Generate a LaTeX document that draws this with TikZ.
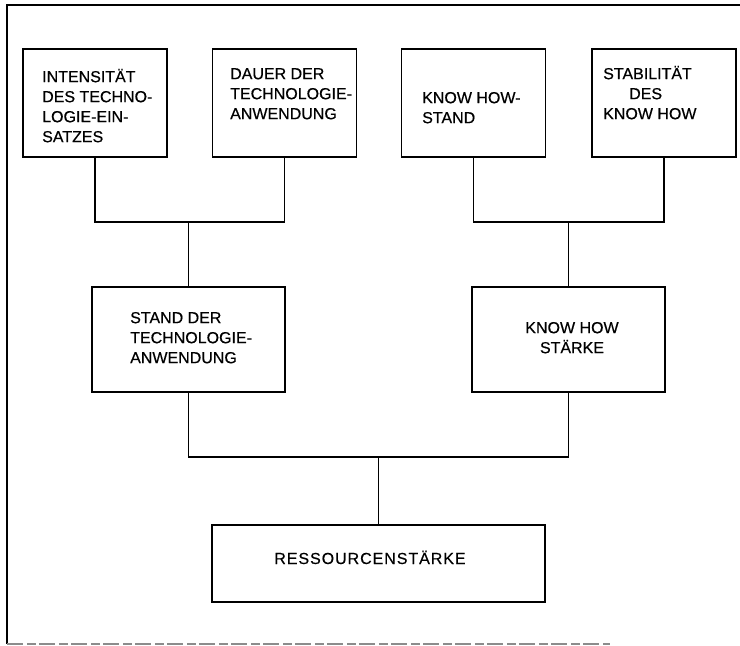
\documentclass[tikz,border=0pt]{standalone}
\usepackage{fontspec}
\setmainfont{Liberation Sans}
\newfontfamily\lettering[FakeBold=0.5]{Liberation Sans}
\newfontfamily\spaced[LetterSpace=6,FakeBold=0.4]{Liberation Sans}
\begin{document}
\begin{tikzpicture}[x=1pt,y=-1pt,
  box/.style={draw, line width=1.8pt, rectangle, inner sep=0pt, minimum height=108pt, minimum width=144pt},
  midbox/.style={box, minimum width=193pt, minimum height=105pt},
  bigbox/.style={box, minimum width=333pt, minimum height=77pt},
  lbl/.style={inner sep=0pt, font=\lettering\fontsize{16}{20}\selectfont, text=black},
  conn/.style={draw, line width=1.7pt},
  frame/.style={draw, line width=1.8pt}]
\useasboundingbox (0,0) rectangle (740,646);
% frame
\coordinate (fTL) at (7,5);
\coordinate (fTR) at (740,5);
\coordinate (fBL) at (7,644);
\coordinate (fBR) at (610,644);
\draw[frame] (fTR) -- (fTL) -- (fBL);
\draw[line width=1.4pt, black!45, dash pattern=on 16pt off 4pt on 9pt off 3pt] (fBL) -- (fBR);
% boxes
\node[box] (b1) at (95,103) {};
\node[box] (b2) at (284.5,103) {};
\node[box] (b3) at (473.5,103) {};
\node[box] (b4) at (664,103) {};
\node[midbox] (b5) at (188.5,339.5) {};
\node[midbox] (b6) at (568.5,339.5) {};
\node[bigbox] (b7) at (378.5,563.5) {};
% texts
\node[lbl, anchor=north west, align=left] (t1) at (42,67) {\rule{0pt}{15pt}INTENSITÄT\\DES TECHNO-\\LOGIE-EIN-\\SATZES};
\node[lbl, anchor=north west, align=left] (t2) at (230,64) {\rule{0pt}{15pt}DAUER DER\\TECHNOLOGIE-\\ANWENDUNG};
\node[lbl, anchor=north west, align=left] (t3) at (422,88) {\rule{0pt}{15pt}KNOW HOW-\\STAND};
\node[lbl, anchor=north west, align=left] (t4) at (603,64) {\rule{0pt}{15pt}STABILITÄT\\\hspace*{26pt}DES\\KNOW HOW};
\node[lbl, anchor=north west, align=left] (t5) at (130,308) {\rule{0pt}{15pt}STAND DER\\TECHNOLOGIE-\\ANWENDUNG};
\node[lbl, anchor=north, align=center] (t6) at (572,318) {\rule{0pt}{15pt}KNOW HOW\\STÄRKE};
\node[lbl, anchor=base, font=\spaced\fontsize{16}{20}\selectfont] (t7) at (370,564) {RESSOURCENSTÄRKE};
% connectors
\coordinate (j1) at (b5.north |- 0,222);
\coordinate (j2) at (b6.north |- 0,222);
\coordinate (j3) at (b7.north |- 0,457);
\draw[conn] (b1.south) |- (j1) -| (b2.south);
\draw[conn] (j1) -- (b5.north);
\draw[conn] (b3.south) |- (j2) -| (b4.south);
\draw[conn] (j2) -- (b6.north);
\draw[conn] (b5.south) |- (j3) -| (b6.south);
\draw[conn] (j3) -- (b7.north);
\end{tikzpicture}
\end{document}
